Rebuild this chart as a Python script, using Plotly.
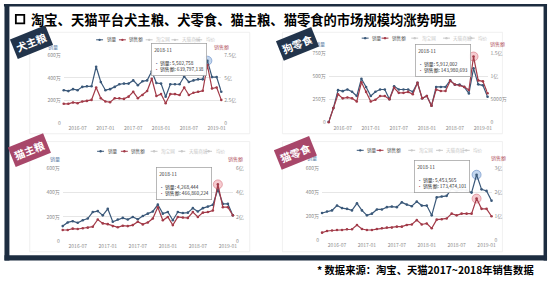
import plotly.graph_objects as go
import pandas as pd

W, H = 555, 285

# ---------------- data ----------------
MONTHS = list(pd.period_range("2016-04", "2019-02", freq="M").strftime("%Y-%m"))
XTICKS = ["2016-07", "2017-01", "2017-07", "2018-01", "2018-07", "2019-01"]
PANEL_NAMES = ["犬主粮", "狗零食", "猫主粮", "猫零食"]
SERIES_NAMES = ["销量", "销售额"]
GREY_LEGEND = ["淘宝网", "天猫商城", "均价"]

# 销量 (万)
VOL_DOG_FOOD = [291, 283, 300, 291, 320, 326, 326, 497, 363, 291, 300, 320, 343, 349, 349, 377, 334, 369,
                377, 457, 354, 349, 234, 343, 343, 343, 411, 363, 377, 386, 386, 550.2758, 406, 406, 277]
VOL_DOG_SNACK = [10, 159, 354, 343, 361, 336, 290, 478, 389, 290, 336, 361, 361, 255, 396, 361, 361, 361,
                 336, 435, 265, 290, 184, 389, 389, 389, 460, 414, 414, 389, 318, 591.2002, 417, 407, 283]
VOL_CAT_FOOD = [125, 155, 165, 152, 173, 187, 240, 248, 213, 267, 160, 179, 192, 179, 200, 181, 208, 227,
                245, 301, 227, 240, 173, 240, 232, 235, 272, 245, 272, 285, 299, 426.8444, 307, 307, 213]
VOL_CAT_SNACK = [227, 240, 249, 289, 268, 262, 249, 308, 249, 208, 222, 257, 257, 276, 281, 276, 316, 297,
                 284, 322, 289, 289, 208, 357, 365, 370, 430, 411, 424, 416, 397, 545.3565, 424, 411, 330]
# 销售额 (亿)
AMT_DOG_FOOD = [2.14, 2.14, 2.29, 2.21, 2.39, 2.46, 2.57, 3.93, 2.75, 2.39, 2.32, 2.75, 2.75, 2.68, 2.93, 3.46,
                2.75, 3.11, 3.54, 4.89, 3.0, 3.21, 2.21, 3.21, 3.21, 3.11, 3.93, 3.11, 3.36, 3.46, 3.57,
                6.3980, 3.82, 3.93, 2.57]
AMT_DOG_SNACK = [0.01, 0.32, 0.62, 0.53, 0.55, 0.53, 0.46, 0.88, 0.67, 0.46, 0.50, 0.58, 0.58, 0.51, 0.76, 0.65,
                 0.65, 0.67, 0.62, 0.87, 0.53, 0.58, 0.37, 0.72, 0.69, 0.69, 0.91, 0.83, 0.81, 0.78, 0.71,
                 1.4398, 0.92, 0.90, 0.64]
AMT_CAT_FOOD = [0.93, 0.93, 1.04, 1.01, 1.07, 1.12, 1.2, 1.79, 1.47, 1.41, 1.25, 1.15, 1.28, 1.25, 1.33, 1.6,
                1.39, 1.55, 1.87, 2.8, 1.73, 2.0, 1.33, 2.0, 1.95, 1.92, 2.4, 2.0, 2.35, 2.4, 2.53,
                4.6686, 2.8, 2.8, 2.13]
AMT_CAT_SNACK = [0.32, 0.39, 0.41, 0.43, 0.43, 0.46, 0.46, 0.64, 0.47, 0.43, 0.43, 0.47, 0.5, 0.53, 0.53, 0.57,
                 0.57, 0.64, 0.66, 0.84, 0.66, 0.70, 0.5, 0.86, 0.88, 0.91, 1.11, 1.04, 1.11, 1.11, 1.11,
                 1.7347, 1.31, 1.31, 1.0]

VOLS = [VOL_DOG_FOOD, VOL_DOG_SNACK, VOL_CAT_FOOD, VOL_CAT_SNACK]
AMTS = [AMT_DOG_FOOD, AMT_DOG_SNACK, AMT_CAT_FOOD, AMT_CAT_SNACK]

TIP_MONTH = "2018-11"
TIP_VOL = [5502758, 5912002, 4268444, 5453565]
TIP_AMT = [639797138, 143980693, 466860224, 173474101]

LEFT_TICKS = [[0, 200, 400, 600], [0, 250, 500, 750], [0, 200, 400, 600], [0, 200, 400, 600]]
LEFT_LABELS = [["0", "200万", "400万", "600万"], ["0", "250万", "500万", "750万"],
               ["0", "200万", "400万", "600万"], ["0", "200万", "400万", "600万"]]
RIGHT_TICKS = [[0, 2.5, 5, 7.5], [0, 0.5, 1, 1.5], [0, 2, 4, 6], [0, 1, 2, 3]]
RIGHT_LABELS = [["0", "2.5亿", "5亿", "7.5亿"], ["0", "5000万", "1亿", "1.5亿"],
                ["0", "2亿", "4亿", "6亿"], ["0", "1亿", "2亿", "3亿"]]

FOOTNOTE = "* 数据来源：淘宝、天猫2017~2018年销售数据"
TITLE = "淘宝、天猫平台犬主粮、犬零食、猫主粮、猫零食的市场规模均涨势明显"

# ---------------- styles / layout ----------------
BLUE = "#3a5879"
RED = "#a23a48"
GREY = "#c9c9c9"
NAVY = "#1d2d40"
BADGE_COLORS = ["#22344b", "#22344b", "#a8476a", "#a8476a"]
FONT = "Noto Sans CJK SC"

GEOM = [
    dict(x0=64.3, x1=223.3, yb=122.3, yt=52.3, badge=(32, 39), tip=(152, 40),
         leg_y=36.7, leg_x=[97, 120, 147, 173, 197], lt=(53, 44.5), rt=(224, 44.5), box=(30, 29, 252, 133),
         halo=[True, False]),
    dict(x0=331.7, x1=492.0, yb=121.7, yt=51.0, badge=(300, 41), tip=(419, 41),
         leg_y=35, leg_x=[365, 385, 415, 447, 472], lt=(323, 40.5), rt=(502, 40.5), box=(285, 29, 507, 133),
         halo=[False, True]),
    dict(x0=63.3, x1=235.0, yb=243.3, yt=168.3, badge=(30, 150), tip=(157, 167),
         leg_y=151, leg_x=[98, 122, 152, 180, 207], lt=(55, 159), rt=(238, 159), box=(30, 141, 252, 254),
         halo=[False, True]),
    dict(x0=325.0, x1=496.0, yb=242.3, yt=168.3, badge=(298, 153), tip=(418, 160),
         leg_y=150, leg_x=[360, 380, 412, 440, 467], lt=(315, 158), rt=(503, 158), box=(285, 141, 507, 254),
         halo=[True, True]),
]


def px(x):
    return x / W


def py(y):
    return 1 - y / H


fig = go.Figure()
layout = dict(
    width=W, height=H, margin=dict(l=0, r=0, t=0, b=0),
    paper_bgcolor="white", plot_bgcolor="rgba(0,0,0,0)",
    showlegend=False, font=dict(family=FONT, size=5, color="#888"),
)
shapes = []
annotations = []

tick_font = dict(family=FONT, size=5, color="#8a8a8a")

for k in range(4):
    g = GEOM[k]
    xid = "x" if k == 0 else f"x{k+1}"
    yl = "y" if k == 0 else f"y{2*k+1}"
    yr = f"y{2*k+2}"
    xname = "xaxis" if k == 0 else f"xaxis{k+1}"
    ylname = "yaxis" if k == 0 else f"yaxis{2*k+1}"
    yrname = f"yaxis{2*k+2}"

    layout[xname] = dict(
        domain=[px(g["x0"]), px(g["x1"])], anchor=yl, type="category",
        categoryorder="array", categoryarray=MONTHS, range=[0, len(MONTHS) - 1],
        tickvals=XTICKS, ticktext=XTICKS, showgrid=False, zeroline=False, showline=False,
        ticks="", tickfont=tick_font, ticklabelstandoff=1, tickangle=0,
    )
    layout[ylname] = dict(
        domain=[py(g["yb"]), py(g["yt"])], anchor=xid, range=[0, LEFT_TICKS[k][-1]],
        tickvals=LEFT_TICKS[k], ticktext=LEFT_LABELS[k], showgrid=True, gridcolor="#e6e6e6",
        gridwidth=0.7, zeroline=False, showline=False, ticks="", tickfont=tick_font,
        ticklabelstandoff=2,
    )
    layout[yrname] = dict(
        overlaying=yl, side="right", anchor=xid, range=[0, RIGHT_TICKS[k][-1]],
        tickvals=RIGHT_TICKS[k], ticktext=RIGHT_LABELS[k], showgrid=False, zeroline=False,
        showline=False, ticks="", tickfont=tick_font, ticklabelstandoff=2,
    )

    ti = MONTHS.index(TIP_MONTH)
    if g["halo"][0]:
        fig.add_trace(go.Scatter(x=[MONTHS[ti]], y=[VOLS[k][ti]], xaxis=xid, yaxis=yl, mode="markers",
                                 marker=dict(size=9, color="rgba(120,165,220,0.45)",
                                             line=dict(width=0.8, color="rgba(90,130,190,0.7)")),
                                 cliponaxis=False, hoverinfo="skip"))
    if g["halo"][1]:
        fig.add_trace(go.Scatter(x=[MONTHS[ti]], y=[AMTS[k][ti]], xaxis=xid, yaxis=yr, mode="markers",
                                 marker=dict(size=9, color="rgba(235,140,150,0.45)",
                                             line=dict(width=0.8, color="rgba(210,110,120,0.7)")),
                                 cliponaxis=False, hoverinfo="skip"))

    fig.add_trace(go.Scatter(x=MONTHS, y=AMTS[k], xaxis=xid, yaxis=yr, name=SERIES_NAMES[1],
                             mode="lines+markers", line=dict(color=RED, width=1.2),
                             marker=dict(size=2.6, color=RED), cliponaxis=False))
    fig.add_trace(go.Scatter(x=MONTHS, y=VOLS[k], xaxis=xid, yaxis=yl, name=SERIES_NAMES[0],
                             mode="lines+markers", line=dict(color=BLUE, width=1.2),
                             marker=dict(size=2.6, color=BLUE), cliponaxis=False))

    bx = g["box"]
    shapes.append(dict(type="rect", xref="paper", yref="paper", x0=px(bx[0]), x1=px(bx[2]),
                       y0=py(bx[3]), y1=py(bx[1]), line=dict(color="#ececec", width=0.8),
                       fillcolor="rgba(0,0,0,0)", layer="below"))

    items = [(SERIES_NAMES[0], BLUE), (SERIES_NAMES[1], RED)] + [(n, GREY) for n in GREY_LEGEND]
    for (name, col), lx in zip(items, g["leg_x"]):
        ly = g["leg_y"]
        shapes.append(dict(type="line", xref="paper", yref="paper", x0=px(lx), x1=px(lx + 7),
                           y0=py(ly), y1=py(ly), line=dict(color=col, width=1)))
        shapes.append(dict(type="circle", xref="paper", yref="paper", x0=px(lx + 2.3), x1=px(lx + 4.7),
                           y0=py(ly + 1.2), y1=py(ly - 1.2), fillcolor=col, line=dict(width=0)))
        annotations.append(dict(x=px(lx + 8.5), y=py(ly), xref="paper", yref="paper", text=name,
                                showarrow=False, xanchor="left", yanchor="middle",
                                font=dict(family=FONT, size=4.6, color="#555" if col != GREY else GREY)))

    annotations.append(dict(x=px(g["lt"][0]), y=py(g["lt"][1]), xref="paper", yref="paper",
                            text=SERIES_NAMES[0], showarrow=False, xanchor="center", yanchor="middle",
                            font=dict(family=FONT, size=5, color="#5b7ea6")))
    annotations.append(dict(x=px(g["rt"][0]), y=py(g["rt"][1]), xref="paper", yref="paper",
                            text=SERIES_NAMES[1], showarrow=False, xanchor="center", yanchor="middle",
                            font=dict(family=FONT, size=5, color="#b45a66")))

    tx, ty = g["tip"]
    tip_text = (f"{TIP_MONTH}<br><br>"
                f"<span style='color:{BLUE}'>•</span> {SERIES_NAMES[0]}: {TIP_VOL[k]:,}<br>"
                f"<span style='color:{RED}'>•</span> {SERIES_NAMES[1]}: {TIP_AMT[k]:,}")
    annotations.append(dict(x=px(tx), y=py(ty), xref="paper", yref="paper", text=tip_text,
                            showarrow=False, xanchor="left", yanchor="top", align="left",
                            borderpad=2.5, bgcolor="rgba(255,255,255,0.95)",
                            bordercolor="#9a9a9a", borderwidth=0.7,
                            font=dict(family=FONT, size=4.8, color="#333")))

    annotations.append(dict(x=px(g["badge"][0]), y=py(g["badge"][1]), xref="paper", yref="paper",
                            text=f"<b>{PANEL_NAMES[k]}</b>", showarrow=False, textangle=-22,
                            xanchor="center", yanchor="middle",
                            bgcolor=BADGE_COLORS[k], borderpad=2.5,
                            font=dict(family=FONT, size=10.5, color="white")))

for (x0, y0, x1, y1) in [(4, 0, 552, 2.5), (4.5, 0, 9.5, 263), (548.5, 0, 552, 263), (4.5, 257.5, 552, 263)]:
    shapes.append(dict(type="rect", xref="paper", yref="paper", x0=px(x0), x1=px(x1), y0=py(y1), y1=py(y0),
                       fillcolor=NAVY, line=dict(width=0)))

shapes.append(dict(type="rect", xref="paper", yref="paper", x0=px(16), x1=px(24.5), y0=py(19.8), y1=py(11.2),
                   line=dict(color="black", width=1.8), fillcolor="white"))
annotations.append(dict(x=px(29), y=py(15.5), xref="paper", yref="paper", text=f"<b>{TITLE}</b>",
                        showarrow=False, xanchor="left", yanchor="middle",
                        font=dict(family=FONT, size=13.3, color="black")))
annotations.append(dict(x=px(541), y=py(272.5), xref="paper", yref="paper", text=f"<b>{FOOTNOTE}</b>",
                        showarrow=False, xanchor="right", yanchor="middle",
                        font=dict(family=FONT, size=10.3, color="black")))

layout["shapes"] = shapes
layout["annotations"] = annotations
fig.update_layout(**layout)
fig.write_html("out.html")
